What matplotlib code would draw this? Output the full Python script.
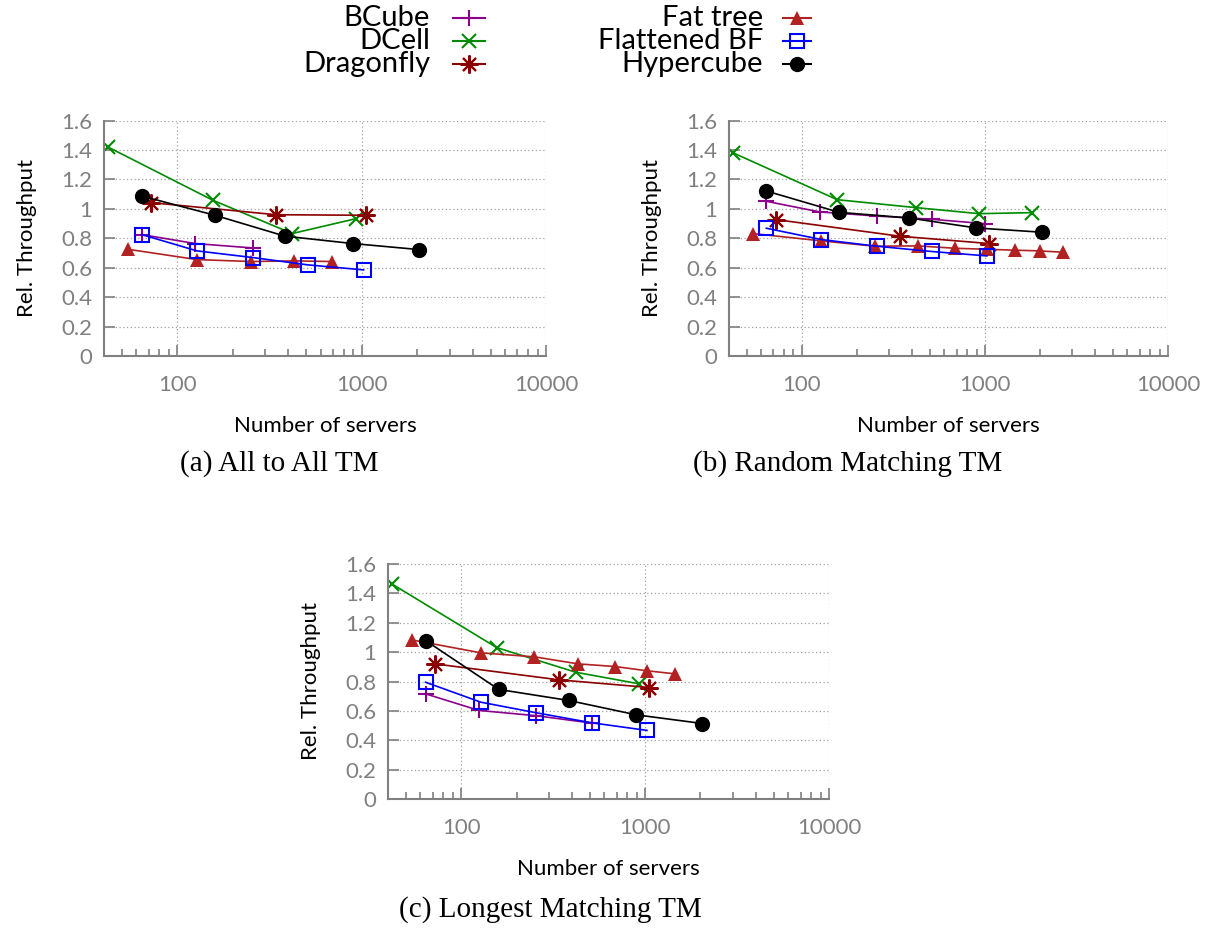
import matplotlib
matplotlib.use("Agg")
import matplotlib.pyplot as plt
from matplotlib.lines import Line2D
from matplotlib.ticker import FixedLocator, LogLocator, NullFormatter

SANS = ["Lato", "DejaVu Sans"]
SERIF = ["Liberation Serif", "DejaVu Serif"]
GRAY = "#808080"

# server counts per topology
BCUBE_N = [64, 125, 256, 512, 1000]
DCELL_N = [42, 156, 420, 930, 1806]
DRAGONFLY_N = [72, 342, 1056]
FATTREE_N = [54, 128, 250, 432, 686, 1024, 1458, 2000, 2662]
FBF_N = [64, 128, 256, 512, 1024]
HYPERCUBE_N = [64, 160, 384, 896, 2048]

# relative throughput, all to all TM
A_BCUBE = [0.825, 0.764, 0.734]
A_DCELL = [1.42, 1.058, 0.832, 0.933]
A_DRAGONFLY = [1.042, 0.960, 0.956]
A_FATTREE = [0.725, 0.655, 0.642, 0.646, 0.642]
A_FBF = [0.825, 0.714, 0.669, 0.619, 0.585]
A_HYPERCUBE = [1.087, 0.956, 0.814, 0.764, 0.723]

# random matching TM
B_BCUBE = [1.051, 0.979, 0.951, 0.929, 0.899]
B_DCELL = [1.381, 1.062, 1.008, 0.967, 0.974]
B_DRAGONFLY = [0.927, 0.814, 0.764]
B_FATTREE = [0.832, 0.782, 0.746, 0.748, 0.732, 0.725, 0.719, 0.714, 0.705]
B_FBF = [0.868, 0.791, 0.746, 0.710, 0.680]
B_HYPERCUBE = [1.121, 0.976, 0.938, 0.870, 0.841]

# longest matching TM
C_BCUBE = [0.716, 0.603, 0.567, 0.517]
C_DCELL = [1.464, 1.031, 0.863, 0.784]
C_DRAGONFLY = [0.920, 0.811, 0.759]
C_FATTREE = [1.083, 0.995, 0.968, 0.920, 0.902, 0.873, 0.852]
C_FBF = [0.795, 0.659, 0.587, 0.519, 0.467]
C_HYPERCUBE = [1.079, 0.746, 0.671, 0.573, 0.514]

LABELS = ["BCube", "DCell", "Dragonfly", "Fat tree", "Flattened BF", "Hypercube"]
SIZES = [BCUBE_N, DCELL_N, DRAGONFLY_N, FATTREE_N, FBF_N, HYPERCUBE_N]
Y_TICKS = [0, 0.2, 0.4, 0.6, 0.8, 1, 1.2, 1.4, 1.6]
X_TICKS = [100, 1000, 10000]

STYLE = {
    "BCube": dict(color="#8b008b", marker="+", ms=12, mew=1.5),
    "DCell": dict(color="#008b00", marker="x", ms=10, mew=1.5),
    "Dragonfly": dict(color="#8b0000", marker=(8, 2, 0), ms=13, mew=1.5),
    "Fat tree": dict(color="#b22222", marker="^", ms=10, mew=0),
    "Flattened BF": dict(color="#0000ff", marker="s", ms=10, mew=1.5, mfc="none"),
    "Hypercube": dict(color="black", marker="o", ms=11, mew=0),
}

W, H = 1212.0, 930.0


def panel(ax, series, caption, cap_xy):
    for label, n, y in zip(LABELS, SIZES, series):
        ax.plot(n[:len(y)], y, lw=1.2, label=label, **STYLE[label])
    ax.set_xscale("log")
    ax.set_xlim(40, 10000)
    ax.set_ylim(0, 1.6)
    ax.xaxis.set_major_locator(FixedLocator(X_TICKS))
    ax.xaxis.set_minor_locator(LogLocator(base=10, subs=range(2, 10)))
    ax.xaxis.set_minor_formatter(NullFormatter())
    ax.set_xticks(X_TICKS, [str(t) for t in X_TICKS])
    ax.set_yticks(Y_TICKS, ["%g" % t for t in Y_TICKS])
    ax.grid(True, which="major", color="#a0a0a0", ls=(0, (1, 2)), lw=0.9)
    for side in ("top", "right"):
        ax.spines[side].set_visible(False)
    for side in ("left", "bottom"):
        ax.spines[side].set_color(GRAY)
        ax.spines[side].set_linewidth(1.5)
    ax.tick_params(which="both", direction="in", colors=GRAY, labelcolor=GRAY,
                   width=1.2, labelsize=16)
    ax.tick_params(axis="x", pad=14)
    ax.tick_params(axis="y", pad=8.5)
    ax.tick_params(which="major", length=8)
    ax.tick_params(which="minor", length=5)
    for lab in ax.get_xticklabels() + ax.get_yticklabels():
        lab.set_family(SANS)
    ax.set_xlabel("Number of servers", family=SANS, fontsize=16, labelpad=15)
    ax.set_ylabel("Rel. Throughput", family=SANS, fontsize=16, labelpad=17)
    fig.text(cap_xy[0] / W, 1 - cap_xy[1] / H, caption, ha="center", va="center",
             family=SERIF, fontsize=21)


fig = plt.figure(figsize=(12.12, 9.3), dpi=100)
ax_a = fig.add_axes([104 / W, 1 - 356 / H, 442 / W, 235.5 / H])
ax_b = fig.add_axes([729 / W, 1 - 356 / H, 439 / W, 235.5 / H])
ax_c = fig.add_axes([388 / W, 1 - 799 / H, 441 / W, 235 / H])

panel(ax_a, [A_BCUBE, A_DCELL, A_DRAGONFLY, A_FATTREE, A_FBF, A_HYPERCUBE],
      "(a) All to All TM", (279, 464))
panel(ax_b, [B_BCUBE, B_DCELL, B_DRAGONFLY, B_FATTREE, B_FBF, B_HYPERCUBE],
      "(b) Random Matching TM", (848, 464))
panel(ax_c, [C_BCUBE, C_DCELL, C_DRAGONFLY, C_FATTREE, C_FBF, C_HYPERCUBE],
      "(c) Longest Matching TM", (550, 910))

# legend: two columns of right-aligned names with a short sample line after each
cols = [(430, 453, 485), (763, 783, 811)]
rows = [18, 41, 64]
for i, label in enumerate(LABELS):
    tx, x0, x1 = cols[i // 3]
    yy = 1 - rows[i % 3] / H
    fig.text(tx / W, yy, label, ha="right", va="center", family=SANS, fontsize=21)
    fig.add_artist(Line2D([x0 / W, x1 / W], [yy, yy], lw=1.5, transform=fig.transFigure,
                          **{k: v for k, v in STYLE[label].items() if k != "marker"}))
    fig.add_artist(Line2D([(x0 + x1) / 2 / W], [yy], lw=0, transform=fig.transFigure,
                          **STYLE[label]))

fig.savefig("out.png", dpi=100)
